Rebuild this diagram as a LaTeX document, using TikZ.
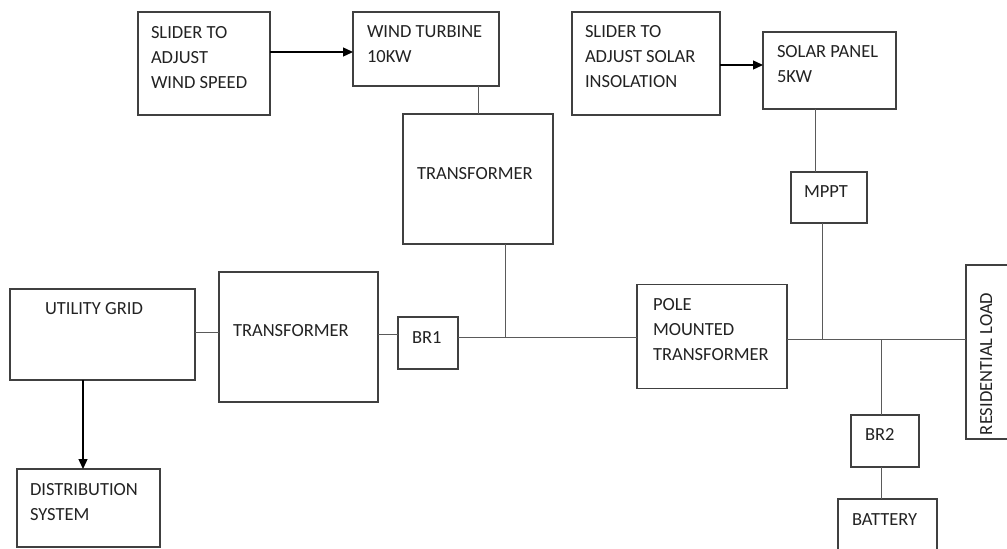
\documentclass[tikz,border=0pt]{standalone}
\usepackage{fontspec}
\setmainfont{Carlito}
\usetikzlibrary{arrows.meta}
\definecolor{boxc}{HTML}{404040}
\definecolor{wirec}{HTML}{5A5A5A}
\definecolor{txtc}{HTML}{222222}
\newcommand{\blines}[1]{\begin{tabular}[t]{@{}l@{}}#1\end{tabular}}
\begin{document}
\begin{tikzpicture}[x=1pt,y=-1pt,
  box/.style={draw=boxc, line width=1.3pt, inner sep=0pt, outer sep=0pt},
  txt/.style={anchor=base west, inner sep=0pt, outer sep=0pt, text=txtc, font=\fontsize{18.5}{25}\selectfont},
  wire/.style={draw=wirec, line width=0.9pt},
  arr/.style={draw=black, line width=1.3pt, -{Triangle[length=10pt,width=9pt]}}]
\useasboundingbox (0,0) rectangle (1007,549);
\clip (0,0) rectangle (1007,549);
% boxes
\node[box, minimum width=132, minimum height=103] (sw) at (204,63.5) {};
\node[box, minimum width=146, minimum height=74] (wt) at (426,49) {};
\node[box, minimum width=150, minimum height=130] (tr1) at (478,179) {};
\node[box, minimum width=148, minimum height=103] (ss) at (646,63.5) {};
\node[box, minimum width=133, minimum height=77] (sp) at (829.5,70.5) {};
\node[box, minimum width=76, minimum height=51] (mppt) at (829,197.5) {};
\node[box, minimum width=185, minimum height=91] (ug) at (102.5,334.5) {};
\node[box, minimum width=159, minimum height=130] (tr2) at (298.5,337) {};
\node[box, minimum width=60, minimum height=52] (br1) at (428,343) {};
\node[box, minimum width=150, minimum height=104] (pt) at (712,336.5) {};
\node[box, minimum width=46, minimum height=174] (rl) at (989,352) {};
\node[box, minimum width=68, minimum height=52] (br2) at (885,441) {};
\node[box, minimum width=99, minimum height=56] (bat) at (887.5,527) {};
\node[box, minimum width=143, minimum height=78] (ds) at (88.5,508) {};
% texts
\node[txt] (swt) at (151,38) {\blines{SLIDER TO\\ADJUST\\WIND SPEED}};
\node[txt] (wtt) at (367,37) {\blines{WIND TURBINE\\10KW}};
\node[txt] (tr1t) at (417,179) {TRANSFORMER};
\node[txt] (sst) at (585,37) {\blines{SLIDER TO\\ADJUST SOLAR\\INSOLATION}};
\node[txt] (spt) at (777,57) {\blines{SOLAR PANEL\\5KW}};
\node[txt] (mpt) at (804,197) {MPPT};
\node[txt] (ugt) at (45,314) {UTILITY GRID};
\node[txt] (tr2t) at (233,336) {TRANSFORMER};
\node[txt] (br1t) at (412,343) {BR1};
\node[txt] (ptt) at (653,310) {\blines{POLE\\MOUNTED\\TRANSFORMER}};
\node[txt, rotate=90] (rlt) at (992,435) {RESIDENTIAL LOAD};
\node[txt] (br2t) at (865,440) {BR2};
\node[txt] (batt) at (852,525) {BATTERY};
\node[txt] (dst) at (30,495) {\blines{DISTRIBUTION\\SYSTEM}};
% helper coordinates
\coordinate (yA) at (0,52);
\coordinate (yB) at (0,65);
\coordinate (yC) at (0,332);
\coordinate (yD) at (0,334);
\coordinate (j1) at (505,337);
\coordinate (j2) at (822,339);
\coordinate (j3) at (881,339);
\coordinate (xS) at (815,0);
\coordinate (xG) at (83,0);
% connectors
\draw[arr] (sw.east |- yA) -- (wt.west |- yA);
\draw[arr] (ss.east |- yB) -- (sp.west |- yB);
\draw[wire] (tr1.north) -- (tr1.north |- wt.south);
\draw[wire] (tr1.south -| j1) -- (j1);
\draw[wire] (sp.south -| xS) -- (mppt.north -| xS);
\draw[wire] (mppt.south -| j2) -- (j2);
\draw[wire] (ug.east |- yC) -- (tr2.west |- yC);
\draw[wire] (tr2.east |- yD) -- (br1.west |- yD);
\draw[wire] (br1.east |- j1) -- (pt.west |- j1);
\draw[wire] (pt.east |- j2) -- (rl.west |- j2);
\draw[wire] (j3) -- (br2.north -| j3);
\draw[wire] (br2.south -| j3) -- (bat.north -| j3);
\draw[arr] (ug.south -| xG) -- (ds.north -| xG);
\end{tikzpicture}
\end{document}
